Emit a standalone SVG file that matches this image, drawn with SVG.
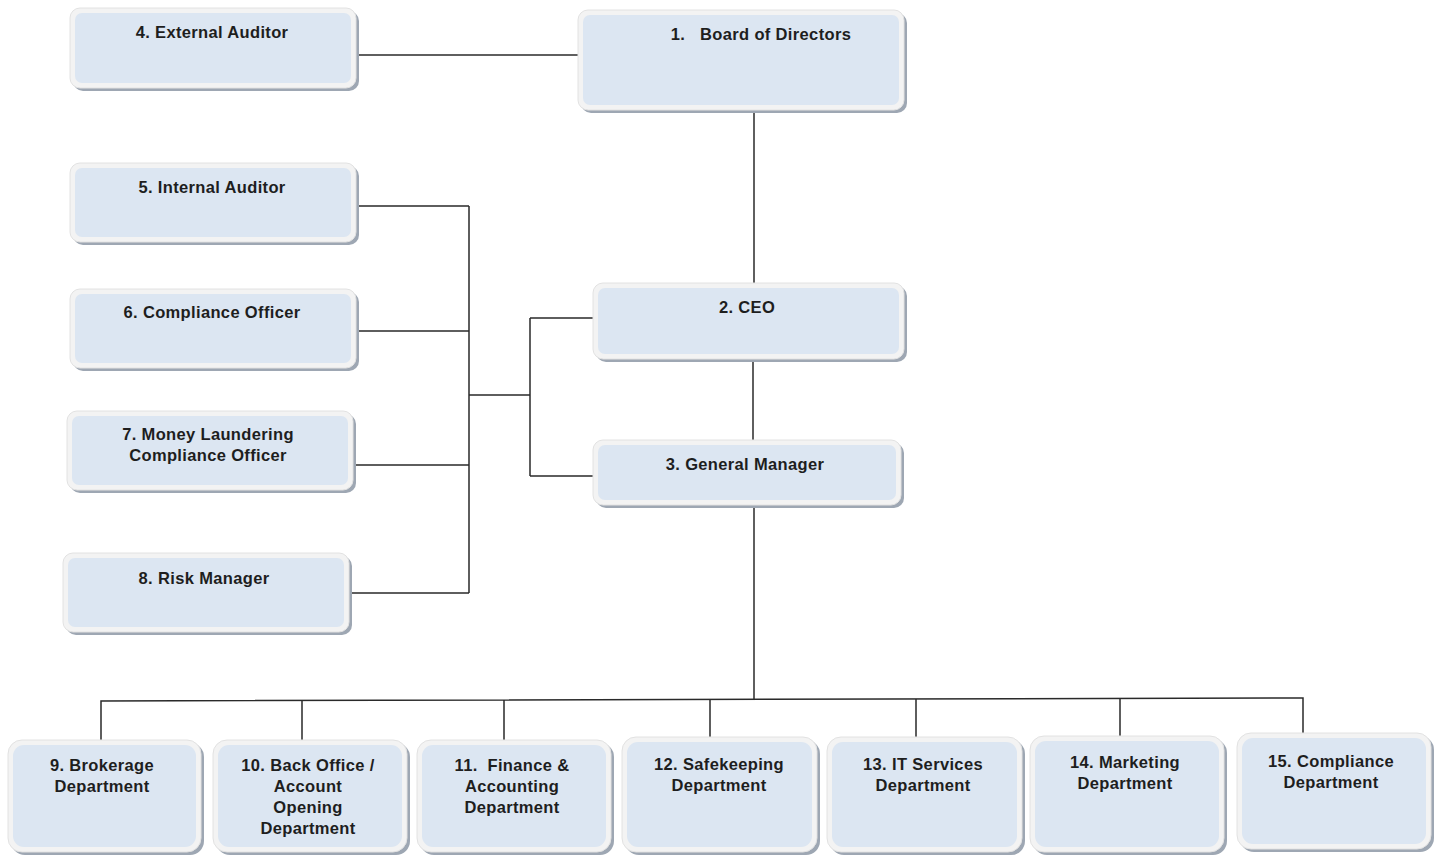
<svg xmlns="http://www.w3.org/2000/svg" width="1437" height="855" viewBox="0 0 1437 855">
<style>
.sh{fill:#9ea7b3}
.ou{fill:#f3f3f3;stroke:#e2e2e2;stroke-width:1}
.in{fill:#dce6f2}
.t{font-family:"Liberation Sans",Arial,sans-serif;font-size:16.5px;font-weight:bold;letter-spacing:0.35px;fill:#1e1e1e;text-anchor:middle}
.c{fill:none;stroke:#2a2a2a;stroke-width:1.5}
</style>
<rect width="1437" height="855" fill="#ffffff"/>
<g id="connectors">
<path class="c" d="M356 55H578"/>
<path class="c" d="M754 110V283"/>
<path class="c" d="M753 359V440"/>
<path class="c" d="M356 206H469M356 331H469M353 465H469M350 593H469M469 206V593"/>
<path class="c" d="M469 395H530M530 318V476M530 318H593M530 476H593"/>
<path class="c" d="M754 505V700"/>
<path class="c" d="M101 740V701L1303 698V733"/>
<path class="c" d="M302 740V701M504 740V700M710 737V700M916 737V699M1120 736V699"/>
</g>
<g id="n4">
<rect class="sh" x="73" y="11" width="286" height="80" rx="10"/>
<rect class="ou" x="70" y="8" width="286" height="80" rx="10"/>
<rect class="in" x="75" y="13" width="276" height="70" rx="7"/>
<text class="t" x="212" y="38">4. External Auditor</text>
</g>
<g id="n1">
<rect class="sh" x="581" y="13" width="326" height="100" rx="10"/>
<rect class="ou" x="578" y="10" width="326" height="100" rx="10"/>
<rect class="in" x="583" y="15" width="316" height="90" rx="7"/>
<text class="t" x="761" y="40" xml:space="preserve">1.   Board of Directors</text>
</g>
<g id="n5">
<rect class="sh" x="73" y="166" width="286" height="79" rx="10"/>
<rect class="ou" x="70" y="163" width="286" height="79" rx="10"/>
<rect class="in" x="75" y="168" width="276" height="69" rx="7"/>
<text class="t" x="212" y="193">5. Internal Auditor</text>
</g>
<g id="n6">
<rect class="sh" x="73" y="292" width="286" height="79" rx="10"/>
<rect class="ou" x="70" y="289" width="286" height="79" rx="10"/>
<rect class="in" x="75" y="294" width="276" height="69" rx="7"/>
<text class="t" x="212" y="318">6. Compliance Officer</text>
</g>
<g id="n7">
<rect class="sh" x="70" y="414" width="286" height="79" rx="10"/>
<rect class="ou" x="67" y="411" width="286" height="79" rx="10"/>
<rect class="in" x="72" y="416" width="276" height="69" rx="7"/>
<text class="t" x="208" y="440">7. Money Laundering</text>
<text class="t" x="208" y="461">Compliance Officer</text>
</g>
<g id="n8">
<rect class="sh" x="66" y="556" width="286" height="79" rx="10"/>
<rect class="ou" x="63" y="553" width="286" height="79" rx="10"/>
<rect class="in" x="68" y="558" width="276" height="69" rx="7"/>
<text class="t" x="204" y="584">8. Risk Manager</text>
</g>
<g id="n2">
<rect class="sh" x="596" y="286" width="311" height="76" rx="10"/>
<rect class="ou" x="593" y="283" width="311" height="76" rx="10"/>
<rect class="in" x="598" y="288" width="301" height="66" rx="7"/>
<text class="t" x="747" y="313">2. CEO</text>
</g>
<g id="n3">
<rect class="sh" x="596" y="443" width="308" height="65" rx="10"/>
<rect class="ou" x="593" y="440" width="308" height="65" rx="10"/>
<rect class="in" x="598" y="445" width="298" height="55" rx="7"/>
<text class="t" x="745" y="470">3. General Manager</text>
</g>
<g id="n9">
<rect class="sh" x="11" y="743" width="193" height="112" rx="14"/>
<rect class="ou" x="8" y="740" width="193" height="112" rx="14"/>
<rect class="in" x="13" y="745" width="183" height="102" rx="11"/>
<text class="t" x="102" y="771">9. Brokerage</text>
<text class="t" x="102" y="792">Department</text>
</g>
<g id="n10">
<rect class="sh" x="216" y="743" width="194" height="112" rx="14"/>
<rect class="ou" x="213" y="740" width="194" height="112" rx="14"/>
<rect class="in" x="218" y="745" width="184" height="102" rx="11"/>
<text class="t" x="308" y="771">10. Back Office /</text>
<text class="t" x="308" y="792">Account</text>
<text class="t" x="308" y="813">Opening</text>
<text class="t" x="308" y="834">Department</text>
</g>
<g id="n11">
<rect class="sh" x="420" y="743" width="194" height="112" rx="14"/>
<rect class="ou" x="417" y="740" width="194" height="112" rx="14"/>
<rect class="in" x="422" y="745" width="184" height="102" rx="11"/>
<text class="t" x="512" y="771" xml:space="preserve">11.  Finance &amp;</text>
<text class="t" x="512" y="792">Accounting</text>
<text class="t" x="512" y="813">Department</text>
</g>
<g id="n12">
<rect class="sh" x="625" y="740" width="195" height="115" rx="14"/>
<rect class="ou" x="622" y="737" width="195" height="115" rx="14"/>
<rect class="in" x="627" y="742" width="185" height="105" rx="11"/>
<text class="t" x="719" y="770">12. Safekeeping</text>
<text class="t" x="719" y="791">Department</text>
</g>
<g id="n13">
<rect class="sh" x="830" y="740" width="195" height="115" rx="14"/>
<rect class="ou" x="827" y="737" width="195" height="115" rx="14"/>
<rect class="in" x="832" y="742" width="185" height="105" rx="11"/>
<text class="t" x="923" y="770">13. IT Services</text>
<text class="t" x="923" y="791">Department</text>
</g>
<g id="n14">
<rect class="sh" x="1033" y="739" width="194" height="116" rx="14"/>
<rect class="ou" x="1030" y="736" width="194" height="116" rx="14"/>
<rect class="in" x="1035" y="741" width="184" height="106" rx="11"/>
<text class="t" x="1125" y="768">14. Marketing</text>
<text class="t" x="1125" y="789">Department</text>
</g>
<g id="n15">
<rect class="sh" x="1240" y="736" width="194" height="116" rx="14"/>
<rect class="ou" x="1237" y="733" width="194" height="116" rx="14"/>
<rect class="in" x="1242" y="738" width="184" height="106" rx="11"/>
<text class="t" x="1331" y="767">15. Compliance</text>
<text class="t" x="1331" y="788">Department</text>
</g>
</svg>
